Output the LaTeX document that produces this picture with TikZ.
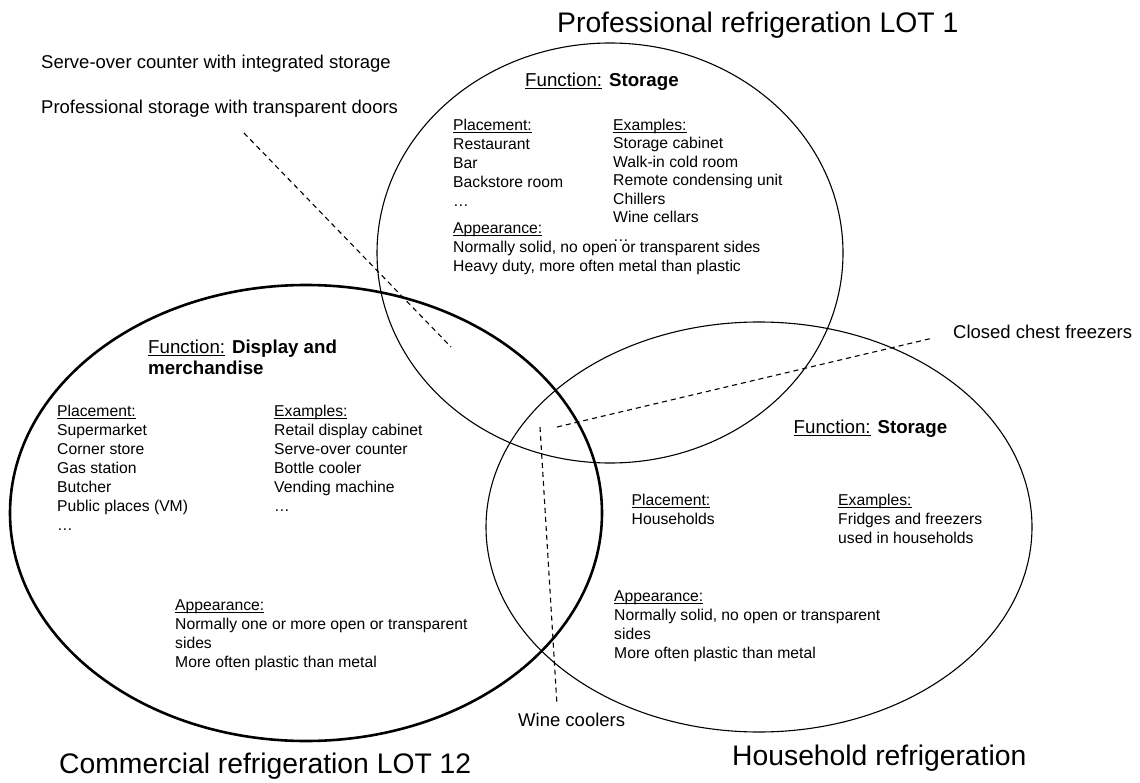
\documentclass[tikz,border=0pt]{standalone}
\usepackage{fontspec}
\setmainfont{Liberation Sans}
\newcommand{\myul}[1]{\setbox0\hbox{#1}\rlap{\rule[-2pt]{\wd0}{0.9pt}}#1}
\tikzset{
  venn/.style={draw=black, line width=1.1pt},
  vennthick/.style={draw=black, line width=2.6pt},
  lead/.style={draw=black, line width=1.1pt, dash pattern=on 5pt off 4pt},
  body/.style={anchor=base west, align=left, inner sep=0pt, font=\fontsize{15.7}{19}\selectfont},
  head/.style={anchor=base west, align=left, inner sep=0pt, font=\fontsize{18.7}{21}\selectfont},
  side/.style={anchor=base west, inner sep=0pt, font=\fontsize{18.5}{22}\selectfont},
  ttl/.style={anchor=base west, inner sep=0pt, font=\fontsize{28.3}{32}\selectfont},
}
\begin{document}
\begin{tikzpicture}[x=1pt,y=-1pt]
\useasboundingbox (0,0) rectangle (1140,783);
% circles
\draw[venn] (610,253) ellipse [x radius=233pt, y radius=210pt];
\draw[vennthick] (306,513) ellipse [x radius=296pt, y radius=228pt];
\draw[venn] (759,527) ellipse [x radius=273pt, y radius=205pt];
% titles
\node[ttl] (tprof) at (557,32.3) {Professional refrigeration LOT 1};
\node[ttl] (tcomm) at (59,773) {Commercial refrigeration LOT 12};
\node[ttl] (thous) at (732,765) {Household refrigeration};
% side labels
\node[side] (serve) at (41,68.6) {Serve-over counter with integrated storage};
\node[side] (pstor) at (41,113.6) {Professional storage with transparent doors};
\node[side] (chest) at (953,338.6) {Closed chest freezers};
\node[side] (wine) at (518,726.6) {Wine coolers};
% professional (anchors at baseline of last line)
\node[head] (pfun) at (525,86.7) {\myul{Function:} \textbf{Storage}};
\node[body] (ppla) at (453,206.5) {\myul{Placement:}\\Restaurant\\Bar\\Backstore room\\…};
\node[body, font=\fontsize{15.7}{18.5}\selectfont] (pexa) at (613,241.5) {\myul{Examples:}\\Storage cabinet\\Walk-in cold room\\Remote condensing unit\\Chillers\\Wine cellars\\…};
\node[body] (papp) at (453,271.5) {\myul{Appearance:}\\Normally solid, no open or transparent sides\\Heavy duty, more often metal than plastic};
% commercial
\node[head] (cfun) at (148,374.7) {\myul{Function:} \textbf{Display and}\\\textbf{merchandise}};
\node[body] (cpla) at (57,530.5) {\myul{Placement:}\\Supermarket\\Corner store\\Gas station\\Butcher\\Public places (VM)\\…};
\node[body] (cexa) at (274,511.5) {\myul{Examples:}\\Retail display cabinet\\Serve-over counter\\Bottle cooler\\Vending machine\\…};
\node[body] (capp) at (175,667.5) {\myul{Appearance:}\\Normally one or more open or transparent\\sides\\More often plastic than metal};
% household
\node[head] (hfun) at (793.5,433.7) {\myul{Function:} \textbf{Storage}};
\node[body] (hpla) at (631.5,524.5) {\myul{Placement:}\\Households};
\node[body] (hexa) at (838,543.5) {\myul{Examples:}\\Fridges and freezers\\used in households};
\node[body] (happ) at (614,658.5) {\myul{Appearance:}\\Normally solid, no open or transparent\\sides\\More often plastic than metal};
% leader lines
\coordinate (d1s) at (244,133);
\coordinate (d1e) at (451,347);
\coordinate (d2s) at (557,427);
\coordinate (d2e) at (933,338);
\coordinate (d3s) at (540,427);
\coordinate (d3e) at (557,705);
\draw[lead] (d1s) -- (d1e);
\draw[lead] (d2s) -- (d2e);
\draw[lead] (d3s) -- (d3e);
\end{tikzpicture}
\end{document}
